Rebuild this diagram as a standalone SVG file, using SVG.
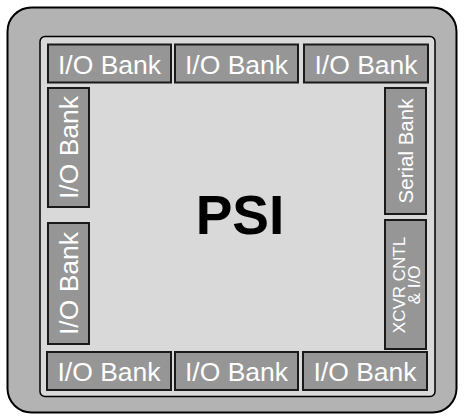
<svg xmlns="http://www.w3.org/2000/svg" width="464" height="420" viewBox="0 0 464 420">
<style>
.bank{fill:#969696;stroke:#1a1a1a;stroke-width:2}
.lbl{fill:#ffffff;font-family:"Liberation Sans",Arial,sans-serif;font-size:26.5px;text-anchor:middle}
.sm{fill:#ffffff;font-family:"Liberation Sans",Arial,sans-serif;text-anchor:middle}
</style>
<rect id="package" x="7.5" y="7.5" width="449" height="405" rx="24" fill="#b3b3b3" stroke="#000" stroke-width="2"/>
<g id="psi">
<rect x="40" y="36.5" width="395" height="360" rx="5" fill="#d9d9d9" stroke="#000" stroke-width="1.5"/>
<text x="240" y="234" font-family="Liberation Sans,Arial,sans-serif" font-size="55" font-weight="bold" text-anchor="middle" fill="#000">PSI</text>
</g>
<g id="top1"><rect class="bank" x="48" y="44.5" width="123" height="38"/><text class="lbl" x="109.5" y="73.5">I/O Bank</text></g>
<g id="top2"><rect class="bank" x="175" y="44.5" width="123" height="38"/><text class="lbl" x="236.5" y="73.5">I/O Bank</text></g>
<g id="top3"><rect class="bank" x="304" y="44.5" width="124" height="38"/><text class="lbl" x="366" y="73.5">I/O Bank</text></g>
<g id="bot1"><rect class="bank" x="47" y="352" width="124" height="38"/><text class="lbl" x="109" y="381">I/O Bank</text></g>
<g id="bot2"><rect class="bank" x="175" y="352" width="123" height="38"/><text class="lbl" x="236.5" y="381">I/O Bank</text></g>
<g id="bot3"><rect class="bank" x="303" y="352" width="124" height="38"/><text class="lbl" x="365" y="381">I/O Bank</text></g>
<g id="left1"><rect class="bank" x="48" y="88" width="41" height="119"/><text class="lbl" transform="translate(78,147.5) rotate(-90)">I/O Bank</text></g>
<g id="left2"><rect class="bank" x="48" y="223" width="41" height="121"/><text class="lbl" transform="translate(78,283.5) rotate(-90)">I/O Bank</text></g>
<g id="serial"><rect class="bank" x="385" y="88" width="41" height="126"/><text class="sm" font-size="20.5" transform="translate(413,151) rotate(-90)">Serial Bank</text></g>
<g id="xcvr"><rect class="bank" x="385" y="220" width="41" height="129"/><text class="sm" font-size="17" transform="translate(404.5,285) rotate(-90)">XCVR CNTL</text><text class="sm" font-size="17" transform="translate(419.5,285) rotate(-90)">&amp; I/O</text></g>
<g id="connectors"></g>
</svg>
